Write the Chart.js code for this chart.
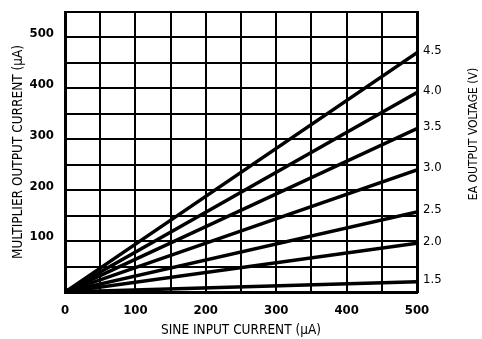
<!DOCTYPE html>
<html>
<head>
<meta charset="utf-8">
<script src="https://cdn.jsdelivr.net/npm/chart.js@4/dist/chart.umd.min.js"></script>
<style>
  html, body { margin: 0; padding: 0; background: #fff; }
</style>
</head>
<body>
<canvas id="myChart" width="482" height="339"></canvas>
<script>
// sine input current (µA) at the two ends of each line
const inputCurrent = [0, 500];

// multiplier output current (µA), one array per EA output voltage
const out15 = [0, 20];
const out20 = [0, 96];
const out25 = [0, 157];
const out30 = [0, 240];
const out35 = [0, 321];
const out40 = [0, 392];
const out45 = [0, 470];

const voltageLabels = ["1.5", "2.0", "2.5", "3.0", "3.5", "4.0", "4.5"];
const seriesList = [out15, out20, out25, out30, out35, out40, out45];

const xTickLabels = [0, 100, 200, 300, 400, 500];
const yTickLabels = [100, 200, 300, 400, 500];

const fontFamily = "'DejaVu Sans Condensed', 'Liberation Sans Narrow', 'Liberation Sans', Arial, sans-serif";

// 오른쪽 축 제목 (아래에서 위로 읽힘)
const rightTitle = {
    id: "rightTitle",
    afterDraw: function (chart) {
        const ctx = chart.ctx;
        const area = chart.chartArea;
        ctx.save();
        ctx.translate(chart.scales.y2.right - 8, (area.top + area.bottom) / 2 - 18);
        ctx.rotate(-Math.PI / 2);
        ctx.font = "12px " + fontFamily;
        ctx.fillStyle = "#000";
        ctx.textAlign = "center";
        ctx.textBaseline = "middle";
        ctx.fillText("EA OUTPUT VOLTAGE (V)", 0, 0);
        ctx.restore();
    }
};

// 축 크기 고정
function fixHeight(h) {
    return function (scale) {
        scale.height = h;
        scale.paddingLeft = 0;
        scale.paddingRight = 0;
    };
}
function fixWidth(w) {
    return function (scale) {
        scale.width = w;
        scale.paddingTop = 0;
        scale.paddingBottom = 0;
    };
}

const datasets = seriesList.map(function (vals, i) {
    return {
        label: voltageLabels[i] + " V",
        data: inputCurrent.map(function (x, j) { return { x: x, y: vals[j] }; }),
        showLine: true,
        borderColor: "#000",
        borderWidth: 3.5,
        pointRadius: 0,
        fill: false
    };
});

new Chart(document.getElementById("myChart"), {
    type: "scatter",
    data: { datasets: datasets },
    options: {
        responsive: false,
        animation: false,
        layout: { padding: { top: 12, left: 0, right: 0, bottom: 0 } },
        plugins: {
            legend: { display: false },
            tooltip: { enabled: false }
        },
        scales: {
            x: {
                type: "linear",
                min: 0,
                max: 500,
                ticks: {
                    stepSize: 50,
                    color: "#000",
                    padding: 11,
                    maxRotation: 0,
                    font: { family: fontFamily, size: 13, weight: "bold" },
                    callback: function (v) { return xTickLabels.includes(v) ? String(v) : ""; }
                },
                grid: { color: "#000", lineWidth: 2, drawTicks: false },
                border: { color: "#000", width: 3 },
                title: {
                    display: true,
                    text: "SINE INPUT CURRENT (µA)",
                    color: "#000",
                    font: { family: fontFamily, size: 13.5 },
                    padding: { top: 0, bottom: 0 }
                },
                afterFit: fixHeight(47)
            },
            y: {
                type: "linear",
                position: "left",
                min: 0,
                max: 550,
                ticks: {
                    stepSize: 50,
                    color: "#000",
                    padding: 11,
                    labelOffset: -4,
                    font: { family: fontFamily, size: 13, weight: "bold" },
                    callback: function (v) { return yTickLabels.includes(v) ? String(v) : ""; }
                },
                grid: { color: "#000", lineWidth: 2, drawTicks: false },
                border: { color: "#000", width: 3 },
                title: {
                    display: true,
                    text: "MULTIPLIER OUTPUT CURRENT (µA)",
                    color: "#000",
                    font: { family: fontFamily, size: 13.5 },
                    padding: { top: 10, bottom: 0 }
                },
                afterFit: fixWidth(65)
            },
            y2: {
                type: "linear",
                position: "right",
                min: 0,
                max: 550,
                afterBuildTicks: function (scale) {
                    scale.ticks = seriesList.map(function (vals) { return { value: vals[vals.length - 1] }; });
                },
                ticks: {
                    color: "#000",
                    padding: 6,
                    labelOffset: -2,
                    font: { family: fontFamily, size: 13 },
                    callback: function (v) {
                        const i = seriesList.findIndex(function (vals) { return vals[vals.length - 1] === v; });
                        return i >= 0 ? voltageLabels[i] : "";
                    }
                },
                grid: { display: false, drawTicks: false },
                border: { color: "#000", width: 3 },
                afterFit: fixWidth(65)
            }
        }
    },
    plugins: [rightTitle]
});
</script>
</body>
</html>
